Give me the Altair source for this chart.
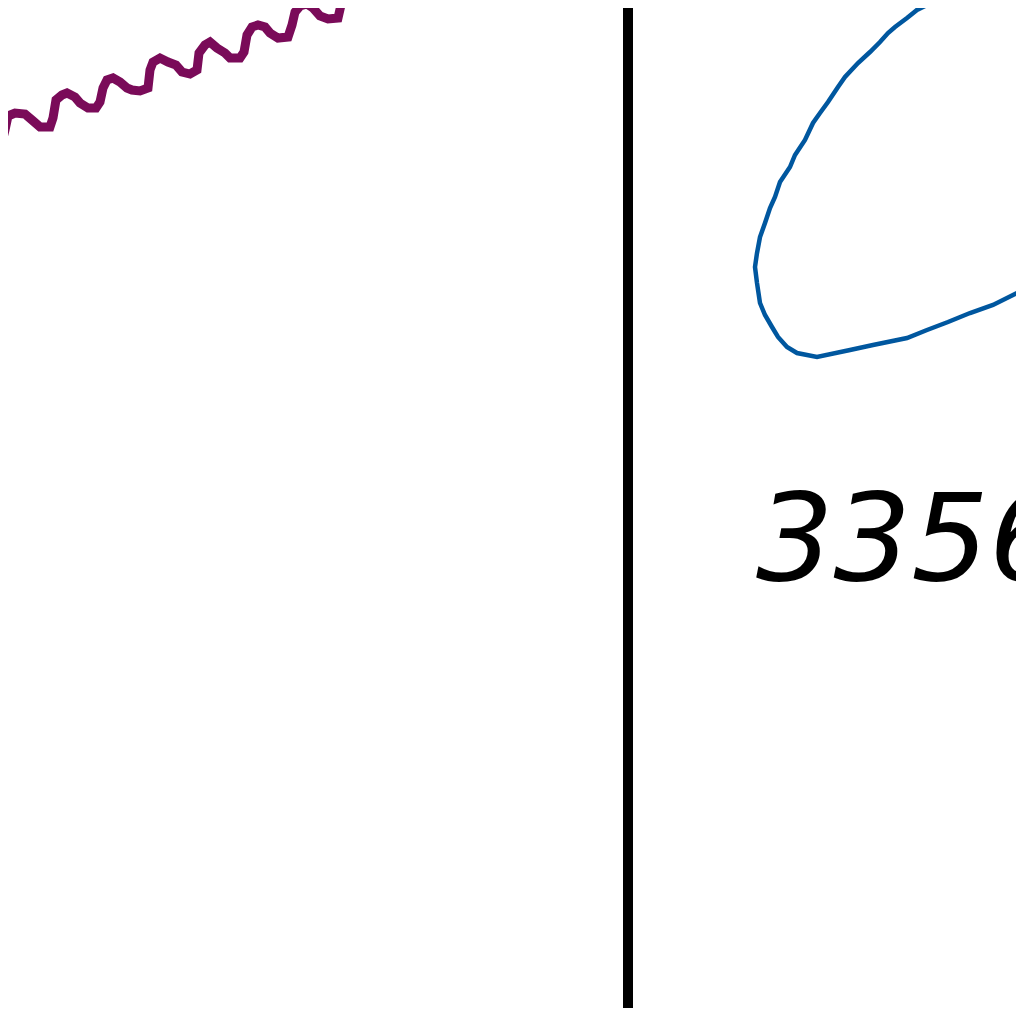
import altair as alt
import pandas as pd

# purple seasonal series (time, value)
purple_t = [-10, 0, 5, 8, 15, 25, 32, 40, 50, 53, 56, 62, 67, 75, 80, 88, 96, 100, 103, 107, 113,
            120, 127, 132, 140, 148, 150, 153, 160, 168, 176, 182, 190, 197, 199, 205, 210, 217,
            225, 230, 240, 244, 247, 252, 258, 265, 270, 278, 288, 292, 295, 300, 307, 313, 320,
            328, 338, 341, 343, 350, 360, 368, 378, 388, 392, 398]
purple_v = [160, 150, 130, 116, 113, 114, 120, 127, 127, 118, 100, 95, 93, 97, 103, 108, 108, 102,
            88, 80, 78, 82, 88, 90, 91, 88, 70, 62, 58, 62, 65, 72, 74, 70, 53, 45, 42, 48, 53, 58,
            58, 52, 35, 27, 25, 27, 33, 38, 37, 25, 12, 6, 4, 8, 16, 19, 18, 5, -8, -20, -10, 0,
            3, 2, -10, -30]

# blue loop (ordered along its path)
blue_t = [960, 940, 927, 917, 907, 895, 888, 880, 870, 858, 845, 838, 828, 820, 813, 805, 795, 790,
          780, 775, 770, 765, 760, 757, 755, 757, 760, 765, 772, 778, 787, 797, 817, 850, 873, 907,
          927, 948, 970, 993, 1013, 1023, 1040]
blue_v = [-8, 0, 5, 10, 18, 27, 33, 42, 52, 63, 77, 87, 102, 113, 123, 140, 155, 167, 182, 197, 208,
          223, 237, 253, 267, 283, 303, 315, 327, 337, 347, 353, 357, 350, 345, 338, 330, 322, 313,
          305, 295, 290, 282]

divider_t = [628]
label_text = ["3356"]
label_t = [756]
label_v = [580]

purple = pd.DataFrame({"t": purple_t, "v": purple_v, "o": range(len(purple_t))})
blue = pd.DataFrame({"t": blue_t, "v": blue_v, "o": range(len(blue_t))})
divider = pd.DataFrame({"t": divider_t})
label = pd.DataFrame({"t": label_t, "v": label_v, "s": label_text})

W, H = 1008, 1000
xs = alt.Scale(domain=[8, 8 + W], nice=False, zero=False)
ys = alt.Scale(domain=[8, 8 + H], nice=False, zero=False, reverse=True)

X = lambda: alt.X("t:Q", scale=xs, axis=None)
Y = lambda: alt.Y("v:Q", scale=ys, axis=None)

l_purple = alt.Chart(purple).mark_line(color="#7a0b59", strokeWidth=9, clip=True,
                                        strokeJoin="miter", interpolate="linear").encode(
    x=X(), y=Y(), order="o:Q")
l_blue = alt.Chart(blue).mark_line(color="#00579f", strokeWidth=4.5, clip=True).encode(
    x=X(), y=Y(), order="o:Q")
l_rule = alt.Chart(divider).mark_rule(color="#000000", strokeWidth=10).encode(x=X())
l_text = alt.Chart(label).mark_text(font="DejaVu Sans", fontStyle="italic", fontSize=122,
                                    align="left", baseline="alphabetic", color="#000000").encode(
    x=X(), y=Y(), text="s:N")

chart = alt.layer(l_purple, l_blue, l_rule, l_text).properties(
    width=W, height=H, padding=0, autosize=alt.AutoSizeParams(type="none"),
    background="#ffffff"
).configure_view(stroke=None)

chart.save("out.html", embed_options={"renderer": "svg", "actions": False})
